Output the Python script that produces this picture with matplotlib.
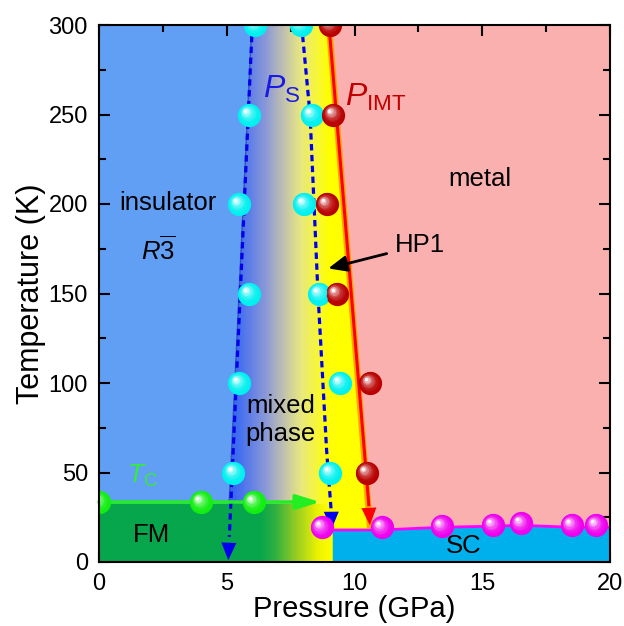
import numpy as np
import matplotlib
matplotlib.use("Agg")
import matplotlib.pyplot as plt
import matplotlib.colors as mcolors
from matplotlib.transforms import ScaledTranslation

plt.rcParams['font.family'] = ['Liberation Sans', 'DejaVu Sans']
plt.rcParams['mathtext.fontset'] = 'custom'
plt.rcParams['mathtext.rm'] = 'Liberation Sans'
plt.rcParams['mathtext.it'] = 'Liberation Sans:italic'

# ---data (pressure GPa, temperature K)---
temps = [300, 250, 200, 150, 100, 50]
ps_low = [6.10, 5.88, 5.48, 5.87, 5.48, 5.26]      # cyan, lower structural boundary
ps_high = [7.89, 8.32, 8.02, 8.62, 9.43, 9.04]     # cyan, upper structural boundary
p_imt = [9.04, 9.17, 8.91, 9.30, 10.61, 10.48]     # dark red, insulator-metal

tc_P = [0.0, 4.0, 6.05]
tc_T = [33.5, 33.5, 33.5]

sc_P = [8.71, 11.06, 13.41, 15.41, 16.52, 18.5, 19.45]
sc_T = [19.4, 19.4, 20.1, 20.7, 21.6, 20.7, 20.7]

# phase boundaries
sc_edge_P = [9.13, 11.06, 13.41, 15.41, 16.52, 18.5, 20.0]
sc_edge_T = [17.9, 17.9, 19.4, 20.0, 20.5, 19.4, 19.4]
ins_edge_P = [5.98, 5.09]
ins_edge_T = [300, 32]
imt_edge_P = [9.0, 10.70]
imt_edge_T = [300, 0]
fm_top = 32
fm_right = 9.13

# guide lines
ps1_P = [6.0, 5.06]
ps1_T = [300, 1]
ps2_P = [7.93, 8.26, 8.57, 8.91, 9.10]
ps2_T = [300, 250, 150, 62, 18.3]
imt_line_P = [9.0, 10.6]
imt_line_T = [300, 20.5]
tc_arrow_P = [0.0, 8.65]

fig = plt.figure(figsize=(6.24, 6.26), dpi=100)
ax = fig.add_axes([99/624, 1-562/626, 511/624, 537/626])

# mixed phase gradient (background)
grad = mcolors.LinearSegmentedColormap.from_list('mix', [
    (0.0, '#3060f0'), (5.0/20, '#3060f0'), (5.5/20, '#4570f0'),
    (6.5/20, '#8a98d8'), (7.2/20, '#c0c0b0'), (7.9/20, '#e8e880'),
    (8.6/20, '#f8f830'), (9.0/20, '#ffff00'), (1.0, '#ffff00')])
ax.imshow(np.linspace(0, 20, 800)[None, :], extent=(0, 20, 0, 300), cmap=grad,
          vmin=0, vmax=20, aspect='auto', origin='lower', zorder=0)

# insulator
ax.fill([0, 0, ins_edge_P[0], ins_edge_P[1]], [fm_top, 300, 300, fm_top],
        color='#619ff5', lw=0, zorder=1)
ax.plot(ins_edge_P, ins_edge_T, color='#3355bb', lw=1, zorder=1.5)

# metal
ax.fill([imt_edge_P[0], 20, 20, imt_edge_P[1]], [300, 300, 0, 0],
        color='#fbb0b0', lw=0, zorder=1)

# FM
fm_cmap = mcolors.LinearSegmentedColormap.from_list('fm', [
    (0.0, '#07a64c'), (6.3/fm_right, '#07a64c'), (6.9/fm_right, '#30b040'),
    (7.8/fm_right, '#a0d020'), (8.6/fm_right, '#eef400'), (1.0, '#ffff00')])
ax.imshow(np.linspace(0, fm_right, 400)[None, :], extent=(0, fm_right, 0, fm_top),
          cmap=fm_cmap, vmin=0, vmax=fm_right, aspect='auto', origin='lower', zorder=2)

# SC
ax.fill_between(sc_edge_P, 0, sc_edge_T, color='#00b0ec', lw=0, zorder=2)
ax.plot(sc_edge_P, sc_edge_T, color='#ff00ff', lw=2, zorder=3)


def head(xy, xyfrom, color, ms=18):
    ax.annotate('', xy=xy, xytext=xyfrom,
                arrowprops=dict(arrowstyle='-|>,head_length=0.7,head_width=0.3',
                                color=color, lw=0, shrinkA=0, shrinkB=0,
                                mutation_scale=ms), zorder=4)


# Ps dashed lines
blue = '#0000ee'
ax.plot(ps1_P[:1] + [5.10], ps1_T[:1] + [14], color=blue, lw=2.3, ls=(0, (2, 1.4)), zorder=4)
head((ps1_P[1], ps1_T[1]), (5.11, 22), blue)
ax.plot(ps2_P[:-1] + [9.08], ps2_T[:-1] + [30], color=blue, lw=2.3, ls=(0, (2, 1.4)), zorder=4)
head((ps2_P[-1], ps2_T[-1]), (9.085, 36), blue)

# IMT line
ax.plot(imt_line_P, imt_line_T, color='#ffa500', lw=4.5, zorder=3.5)
ax.plot([imt_line_P[0], 10.56], [imt_line_T[0], 32], color='#ff0000', lw=2.2, zorder=4)
head((imt_line_P[1], imt_line_T[1]), (10.545, 36), '#ff0000')

# Tc arrow
ax.annotate('', xy=(tc_arrow_P[1], tc_T[0]), xytext=(tc_arrow_P[0], tc_T[0]),
            arrowprops=dict(arrowstyle='-|>,head_length=0.8,head_width=0.25',
                            color='#22ee22', lw=2.5, shrinkA=0, shrinkB=0,
                            mutation_scale=18), zorder=4)


def balls(xs, ys, base, s=280):
    base = np.array(mcolors.to_rgb(base))
    n = 8
    for k in range(n):
        f = k / (n - 1)
        col = base + (1 - base) * (f ** 2) * 0.97
        off = ScaledTranslation(-2.8 * f / 72, 2.8 * f / 72, fig.dpi_scale_trans)
        ax.scatter(xs, ys, s=s * (1 - 0.85 * f) ** 2, color=col, lw=0,
                   transform=ax.transData + off, zorder=5 + k * 0.01)


balls(ps_low, temps, '#00f0f0')
balls(ps_high, temps, '#00f0f0')
balls(p_imt, temps, '#b80000')
balls(tc_P, tc_T, '#11ee11')
balls(sc_P, sc_T, '#ee00ee')

# labels
fs = 18.5
ax.text(2.71, 200.4, 'insulator', fontsize=fs, ha='center', va='center', zorder=6)
ax.text(2.32, 174, r'$R\overline{3}$', fontsize=fs, ha='center', va='center', zorder=6)
ax.text(14.9, 214, 'metal', fontsize=fs, ha='center', va='center', zorder=6)
ax.text(7.11, 79.5, 'mixed\nphase', fontsize=fs, ha='center', va='center', zorder=6)
ax.text(2.06, 15, 'FM', fontsize=fs, ha='center', va='center', zorder=6)
ax.text(14.26, 9, 'SC', fontsize=fs, ha='center', va='center', zorder=6)
ax.text(6.43, 259, r'$P_{\mathrm{S}}$', fontsize=23, color='#1a1ae6', ha='left',
        va='baseline', zorder=6)
ax.text(9.63, 255, r'$P_{\mathrm{IMT}}$', fontsize=23, color='#c00000', ha='left',
        va='baseline', zorder=6)
ax.text(1.08, 44.3, r'$T_{\mathrm{C}}$', fontsize=19, color='#33ee33', ha='left',
        va='baseline', zorder=6)
ax.annotate('HP1', xy=(8.97, 164), xytext=(12.56, 177), fontsize=fs,
            ha='center', va='center', zorder=6,
            arrowprops=dict(arrowstyle='-|>,head_length=0.7,head_width=0.3',
                            color='black', lw=2, shrinkA=4, shrinkB=0,
                            mutation_scale=16))

ax.set_xlim(0, 20)
ax.set_ylim(0, 300)
ax.set_xticks([0, 5, 10, 15, 20])
ax.set_xticks([2.5, 7.5, 12.5, 17.5], minor=True)
ax.set_yticks(range(0, 301, 50))
ax.set_yticks(range(25, 300, 50), minor=True)
ax.tick_params(which='both', direction='in', top=True, right=True, width=1.5,
               labelsize=17, pad=8)
ax.tick_params(which='major', length=8)
ax.tick_params(which='minor', length=5)
for sp in ax.spines.values():
    sp.set_linewidth(1.5)
    sp.set_zorder(7)
ax.set_xlabel('Pressure (GPa)', fontsize=21, labelpad=0)
ax.set_ylabel('Temperature (K)', fontsize=22, labelpad=2)

fig.savefig('out.png', dpi=100)
